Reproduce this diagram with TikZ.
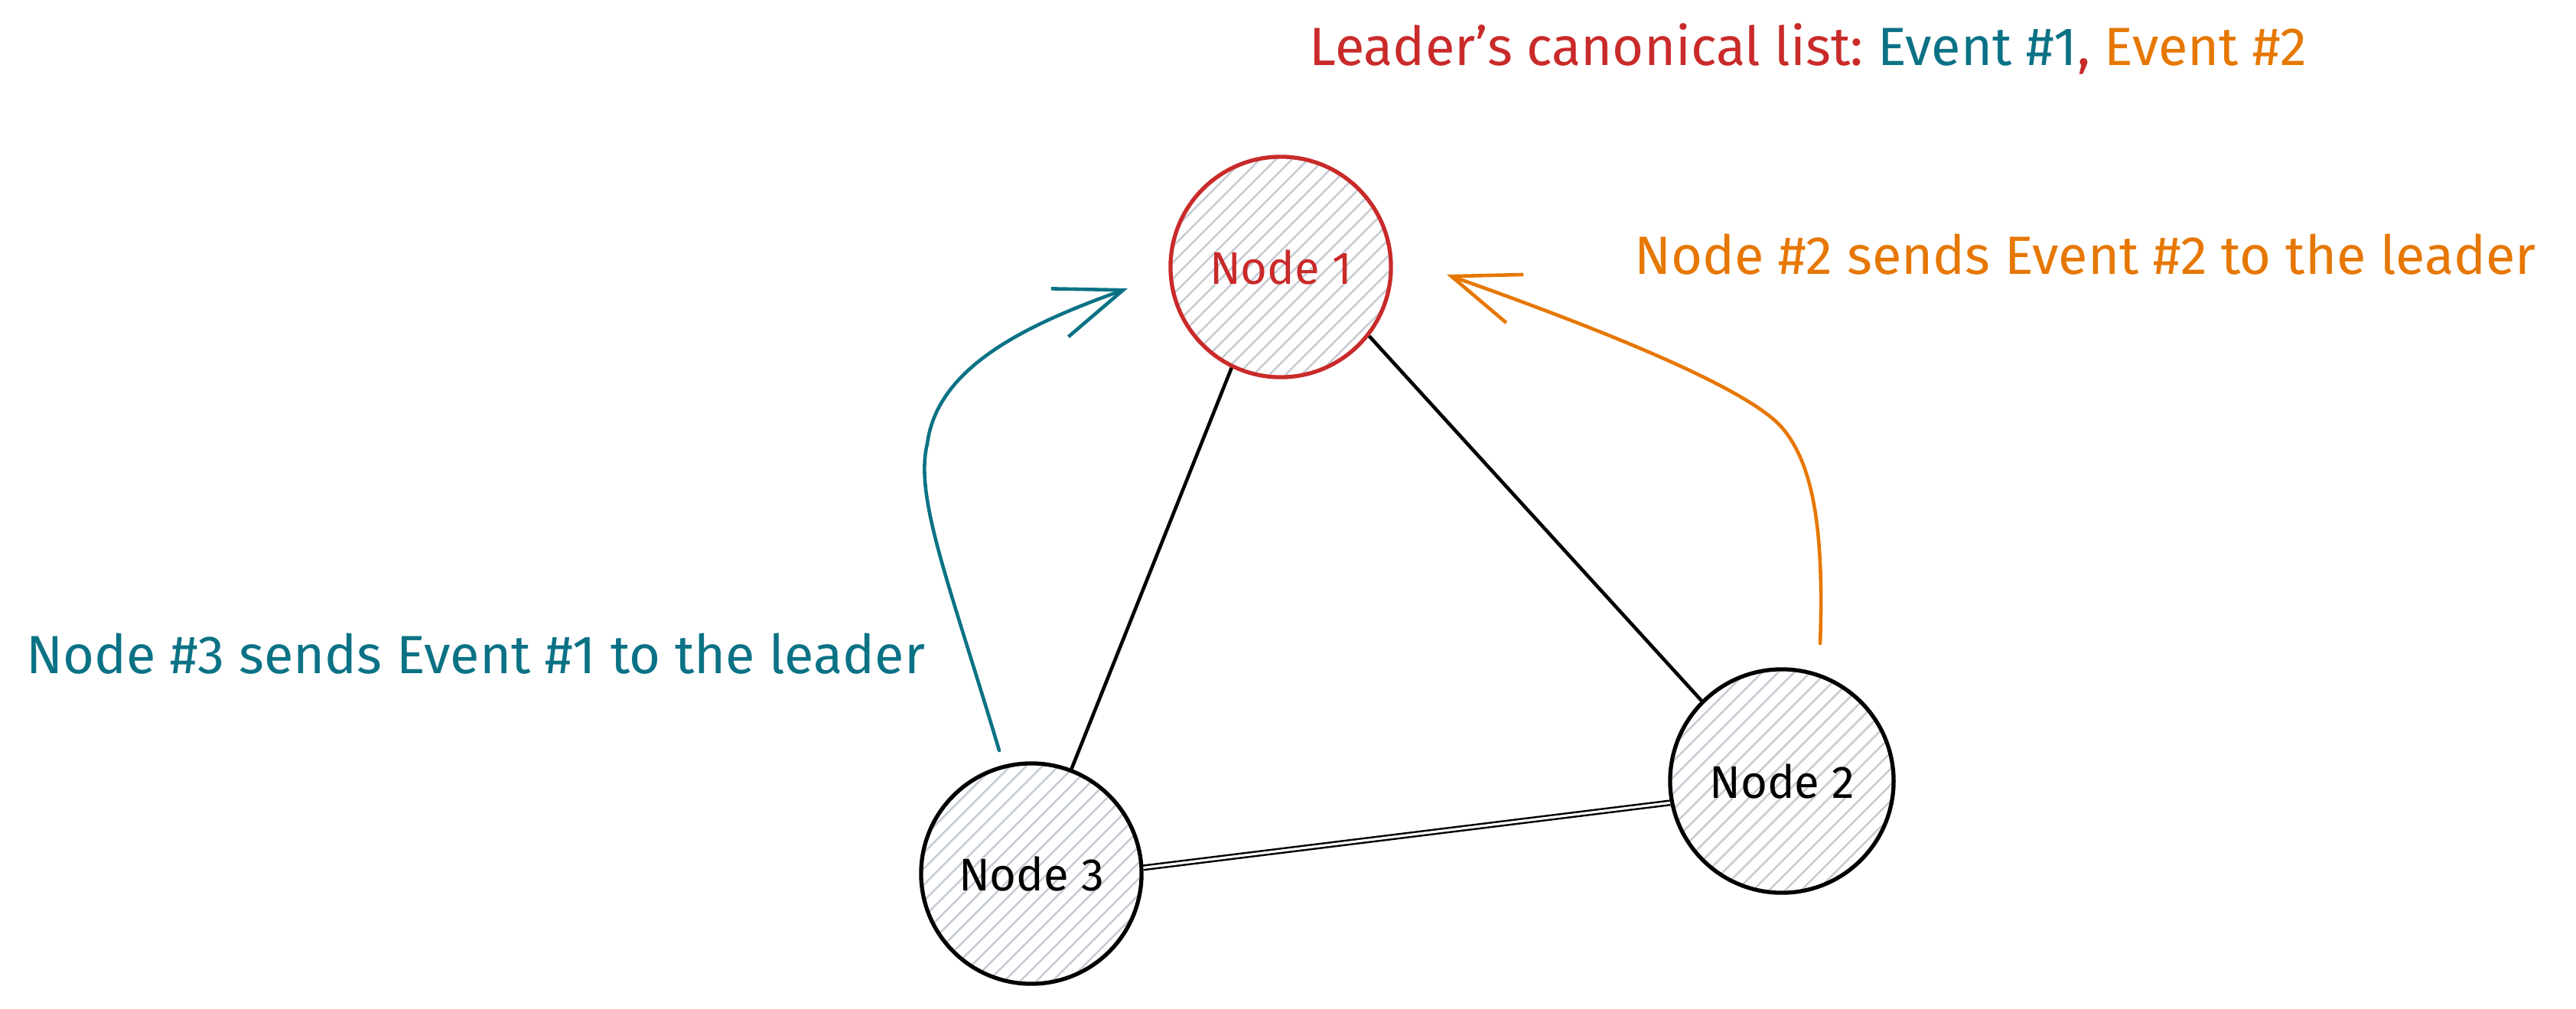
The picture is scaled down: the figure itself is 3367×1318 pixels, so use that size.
\documentclass[tikz,border=0pt]{standalone}
\usepackage{fontspec}
\setmainfont{Fira Sans}
\usetikzlibrary{arrows.meta}
\definecolor{cred}{HTML}{C92A2A}
\definecolor{cteal}{HTML}{0B7285}
\definecolor{corange}{HTML}{E67700}
\definecolor{chatch}{HTML}{C5CBD2}
\newcommand{\hatchdisc}[3]{%
  \begin{scope}
    \clip (#1,#2) circle [radius=#3];
    \foreach \k in {-10,...,10} {
      \draw[hatchline] (#1+\k*21-240,#2+240) -- ++(480,-480);
    }
  \end{scope}}
\begin{document}
\frenchspacing
\begin{tikzpicture}[x=0.01cm,y=-0.01cm,
  hatchline/.style={chatch, line width=0.7pt},
  circnode/.style={circle, draw, line width=1.5pt, inner sep=0pt,
    font=\fontsize{17}{20}\selectfont},
  lbl/.style={inner sep=0pt, font=\fontsize{20}{24}\selectfont},
  edge/.style={line width=1.3pt},
  dbledge/.style={double, double distance=0.9pt, line width=0.7pt},
  msgarrow/.style={line width=1.3pt, line cap=round,
    -{Straight Barb[length=25pt,width=19pt]}}]
\useasboundingbox (0,0) rectangle (3367,1318);

% hatching
\hatchdisc{1674}{349}{1.44cm}
\hatchdisc{2329}{1021}{1.46cm}
\hatchdisc{1348}{1142}{1.44cm}

% nodes
\node[circnode, draw=cred, text=cred, minimum size=2.88cm] (n1) at (1674,349) {Node 1};
\node[circnode, minimum size=2.92cm] (n2) at (2329,1021) {Node 2};
\node[circnode, minimum size=2.88cm] (n3) at (1348,1142) {Node 3};

% edges
\draw[edge] (n1.244) -- (n3.69);
\draw[edge] (n1.-38) -- (n2.135);
\draw[dbledge] (n3.3) -- (n2.191);

% labels
\node[lbl, text=cred, anchor=base west] (title) at (1711,85)
  {Leader's canonical list: \textcolor{cteal}{Event \#1}, \textcolor{corange}{Event \#2}};
\node[lbl, text=cteal, anchor=base west] (lab3) at (34,880)
  {Node \#3 sends Event \#1 to the leader};
\node[lbl, text=corange, anchor=base west] (lab2) at (2136,358)
  {Node \#2 sends Event \#2 to the leader};

% message arrows
\coordinate (t0) at (1306,981);
\coordinate (t1) at (1474,377);
\draw[msgarrow, cteal] (t0) .. controls (1240,760) and (1195,650) .. (1212,580)
  .. controls (1225,480) and (1340,425) .. (t1);

\coordinate (o0) at (2379,841);
\coordinate (o1) at (1891,359);
\draw[msgarrow, corange] (o0) .. controls (2384,700) and (2372,610) .. (2330,560)
  .. controls (2290,512) and (2120,440) .. (o1);
\end{tikzpicture}
\end{document}
